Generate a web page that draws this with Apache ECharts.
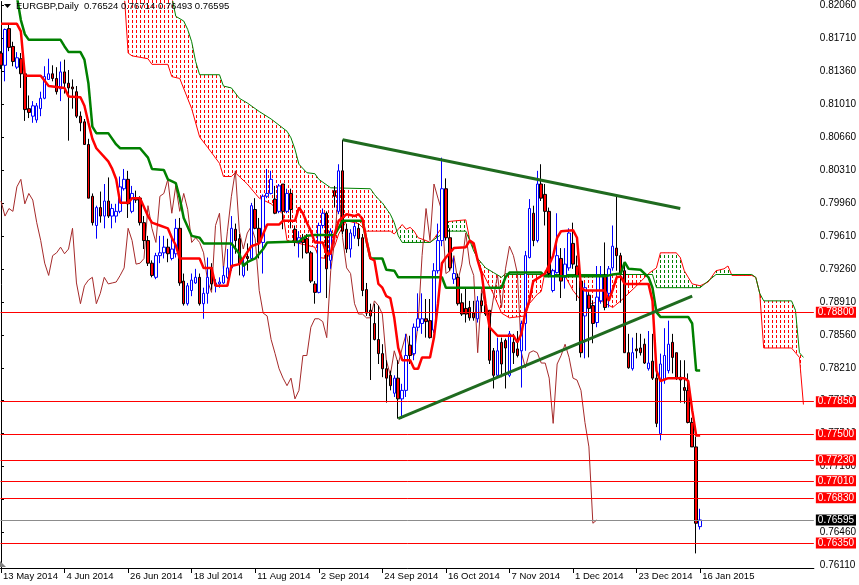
<!DOCTYPE html>
<html><head><meta charset="utf-8">
<script src="https://cdn.jsdelivr.net/npm/echarts@6/dist/echarts.min.js"></script>
<style>html,body{margin:0;padding:0;background:#fff}#main{width:859px;height:585px}</style>
</head><body><div id="main"></div><script>
const symbolName = 'EURGBP,Daily';
const dateLabels = ['13 May 2014','4 Jun 2014','26 Jun 2014','18 Jul 2014','11 Aug 2014','2 Sep 2014','24 Sep 2014','16 Oct 2014','7 Nov 2014','1 Dec 2014','23 Dec 2014','16 Jan 2015'];
const dateLabelBars = [0,16,32,48,64,80,96,112,128,144,160,176];
const priceTicks = [0.82060,0.81710,0.81360,0.81010,0.80660,0.80310,0.79960,0.79610,0.79260,0.78910,0.78560,0.78210,0.77860,0.77510,0.77160,0.76810,0.76460,0.76110];

const opens = [0.8155,0.8142,0.8181,0.8162,0.8140,0.8149,0.8133,0.8096,0.8088,0.8084,0.8096,0.8107,0.8127,0.8133,0.8128,0.8117,0.8135,0.8123,0.8119,0.8114,
0.8088,0.8082,0.8058,0.8003,0.7972,0.7991,0.7982,0.7998,0.7982,0.7982,0.7987,0.8011,0.8021,0.7987,0.8001,0.8001,0.7975,0.7956,0.7932,0.7917,
0.7940,0.7943,0.7949,0.7937,0.7942,0.7969,0.7913,0.7889,0.7903,0.7911,0.7917,0.7889,0.7900,0.7927,0.7908,0.7910,0.7911,0.7917,0.7927,0.7968,
0.7958,0.7919,0.7939,0.7937,0.7989,0.7969,0.7954,0.8003,0.8006,0.8000,0.7987,0.8016,0.7987,0.8006,0.7968,0.7954,0.7959,0.7958,0.7943,0.7910,
0.7901,0.7972,0.7985,0.7935,0.8009,0.7987,0.8030,0.7968,0.7947,0.7961,0.7969,0.7959,0.7904,0.7882,0.7868,0.7851,0.7836,0.7820,0.7813,0.7794,
0.7810,0.7788,0.7797,0.7845,0.7836,0.7864,0.7868,0.7873,0.7871,0.7861,0.7924,0.7956,0.8011,0.7959,0.7915,0.7917,0.7890,0.7884,0.7885,0.7879,
0.7873,0.7892,0.7887,0.7882,0.7839,0.7813,0.7848,0.7850,0.7813,0.7848,0.7841,0.7839,0.7868,0.7938,0.7985,0.7956,0.8016,0.8005,0.7987,0.7903,
0.7922,0.7937,0.7917,0.7927,0.7953,0.7929,0.7913,0.7876,0.7898,0.7887,0.7869,0.7892,0.7919,0.7900,0.7927,0.7948,0.7940,0.7924,0.7837,0.7820,
0.7841,0.7842,0.7846,0.7820,0.7828,0.7810,0.7751,0.7808,0.7818,0.7848,0.7837,0.7811,0.7800,0.7797,0.7763,0.7737,0.76524];
const closes = [0.8142,0.8180,0.8161,0.8146,0.8150,0.8133,0.8095,0.8092,0.8099,0.8099,0.8107,0.8130,0.8133,0.8128,0.8114,0.8135,0.8123,0.8118,0.8117,0.8088,
0.8081,0.8058,0.8001,0.7975,0.7991,0.7982,0.7998,0.7982,0.7990,0.7987,0.8013,0.8021,0.7995,0.8006,0.7999,0.7975,0.7956,0.7932,0.7919,0.7940,
0.7943,0.7949,0.7942,0.7947,0.7969,0.7911,0.7889,0.7908,0.7914,0.7917,0.7889,0.7900,0.7917,0.7910,0.7911,0.7912,0.7919,0.7927,0.7969,0.7956,
0.7931,0.7932,0.7937,0.7993,0.7969,0.7954,0.8003,0.8006,0.8021,0.7985,0.8014,0.7987,0.8006,0.7989,0.7954,0.7959,0.7954,0.7943,0.7913,0.7901,
0.7972,0.7985,0.7926,0.7966,0.8003,0.8030,0.7966,0.7947,0.7964,0.7971,0.7958,0.7903,0.7879,0.7876,0.7851,0.7836,0.7820,0.7810,0.7802,0.7810,
0.7788,0.7797,0.7834,0.7834,0.7864,0.7873,0.7873,0.7870,0.7853,0.7924,0.7956,0.8011,0.7959,0.7927,0.7921,0.7889,0.7878,0.7878,0.7874,0.7874,
0.7892,0.7887,0.7878,0.7829,0.7813,0.7839,0.7825,0.7842,0.7857,0.7837,0.7834,0.7868,0.7940,0.7990,0.7956,0.8016,0.8001,0.7987,0.7921,0.7924,
0.7940,0.7913,0.7931,0.7964,0.7931,0.7919,0.7837,0.7906,0.7884,0.7868,0.7896,0.7919,0.7885,0.7926,0.7950,0.7940,0.7921,0.7837,0.7821,0.7837,
0.7839,0.7837,0.7826,0.7826,0.7810,0.7762,0.7825,0.7834,0.7846,0.7832,0.7810,0.7808,0.7797,0.7763,0.7737,0.7656,0.76595];
const lows = [0.8138,0.8125,0.8157,0.8141,0.8138,0.8118,0.8083,0.8086,0.8081,0.8081,0.8088,0.8106,0.8127,0.8125,0.8111,0.8104,0.8112,0.8062,0.8096,0.8086,
0.8072,0.8058,0.8001,0.7972,0.7958,0.7975,0.7969,0.7980,0.7969,0.7975,0.7985,0.8009,0.7980,0.7985,0.7996,0.7972,0.7947,0.7929,0.7917,0.7915,
0.7932,0.7937,0.7933,0.7935,0.7938,0.7908,0.7887,0.7887,0.7897,0.7910,0.7887,0.7873,0.7889,0.7904,0.7901,0.7906,0.7910,0.7915,0.7924,0.7942,
0.7919,0.7917,0.7924,0.7935,0.7968,0.7937,0.7921,0.8001,0.8005,0.7984,0.7985,0.7968,0.7985,0.7969,0.7950,0.7938,0.7937,0.7942,0.7911,0.7889,
0.7900,0.7969,0.7895,0.7926,0.7991,0.7984,0.7963,0.7943,0.7938,0.7958,0.7950,0.7897,0.7876,0.7808,0.7850,0.7825,0.7811,0.7784,0.7797,0.7790,
0.7767,0.7767,0.7790,0.7825,0.7829,0.7860,0.7857,0.7853,0.7852,0.7858,0.7921,0.7950,0.7956,0.7924,0.7910,0.7887,0.7876,0.7869,0.7871,0.7871,
0.7869,0.7879,0.7876,0.7825,0.7799,0.7810,0.7811,0.7799,0.7811,0.7825,0.7832,0.7800,0.7839,0.7937,0.7950,0.7954,0.7998,0.7972,0.7917,0.7901,
0.7921,0.7895,0.7905,0.7924,0.7926,0.7892,0.7832,0.7831,0.7832,0.7847,0.7864,0.7889,0.7882,0.7885,0.7924,0.7924,0.7890,0.7837,0.7820,0.7818,
0.7831,0.7834,0.7825,0.7818,0.7808,0.7758,0.7744,0.7804,0.7815,0.7815,0.7808,0.7784,0.7783,0.7762,0.7737,0.7624,0.76493];
const highs = [0.8157,0.8181,0.8185,0.8167,0.8156,0.8155,0.8141,0.8110,0.8104,0.8102,0.8114,0.8141,0.8149,0.8142,0.8140,0.8146,0.8148,0.8137,0.8127,0.8120,
0.8093,0.8085,0.8064,0.8006,0.7993,0.8008,0.8016,0.8023,0.7995,0.7995,0.8024,0.8032,0.8030,0.8014,0.8009,0.8003,0.7982,0.7961,0.7935,0.7943,
0.7961,0.7961,0.7958,0.7961,0.7979,0.7980,0.7921,0.7911,0.7921,0.7926,0.7921,0.7906,0.7938,0.7932,0.7915,0.7917,0.7929,0.7947,0.7982,0.7974,
0.7963,0.7938,0.7953,0.7996,0.8001,0.7980,0.8005,0.8032,0.8030,0.8014,0.8016,0.8016,0.8011,0.8011,0.7972,0.7966,0.7963,0.7963,0.7945,0.7913,
0.7975,0.7990,0.7987,0.7969,0.8014,0.8037,0.8063,0.7974,0.7968,0.7975,0.7974,0.7963,0.7911,0.7889,0.7889,0.7887,0.7846,0.7829,0.7818,0.7813,
0.7829,0.7804,0.7857,0.7855,0.7868,0.7900,0.7900,0.7894,0.7894,0.7932,0.7974,0.8044,0.8022,0.7969,0.7938,0.7921,0.7900,0.7906,0.7892,0.7892,
0.7897,0.7900,0.7895,0.7882,0.7842,0.7853,0.7853,0.7852,0.7860,0.7857,0.7860,0.7871,0.7945,0.8000,0.7993,0.8030,0.8037,0.8016,0.7991,0.7926,
0.7985,0.7948,0.7948,0.7969,0.7975,0.7940,0.7917,0.7911,0.7901,0.7892,0.7929,0.7929,0.7954,0.7929,0.7972,0.8003,0.7943,0.7931,0.7857,0.7853,
0.7858,0.7857,0.7852,0.7860,0.7857,0.7825,0.7836,0.7863,0.7871,0.7857,0.7837,0.7829,0.7829,0.7815,0.7768,0.7748,0.76714];

const tenkan = [[0,0.8186],[4,0.8186],[5,0.8178],[6,0.8131],[10,0.8131],[12,0.8120],[16,0.8118],[17,0.8109],[20,0.8108],[21,0.8099],[22,0.8081],[23,0.8064],[24,0.8054],[27,0.8040],[28,0.8032],[29,0.8021],[30,0.7996],[32,0.7996],[33,0.8001],[35,0.8001],[37,0.7982],[38,0.7975],[40,0.7972],[42,0.7969],[43,0.7959],[44,0.7951],[45,0.7937],[50,0.7937],[51,0.7927],[53,0.7927],[54,0.7908],[57,0.7908],[58,0.7929],[60,0.7931],[63,0.7950],[65,0.7953],[66,0.7963],[67,0.7973],[70,0.7973],[71,0.7977],[74,0.7977],[75,0.7991],[76,0.7985],[77,0.7975],[78,0.7966],[79,0.7954],[81,0.7954],[82,0.7942],[83,0.7942],[84,0.7963],[85,0.7977],[87,0.7984],[89,0.7982],[90,0.7984],[91,0.7979],[92,0.7956],[93,0.7937],[94,0.7935],[95,0.7910],[96,0.7906],[97,0.7897],[98,0.7895],[99,0.7874],[100,0.7842],[101,0.7829],[103,0.7829],[104,0.7820],[105,0.7820],[106,0.7832],[108,0.7832],[109,0.7853],[110,0.7889],[111,0.7932],[112,0.7938],[114,0.7948],[117,0.7949],[118,0.7956],[119,0.7953],[120,0.7935],[121,0.7921],[122,0.7889],[123,0.7864],[125,0.7855],[129,0.7855],[130,0.7848],[131,0.7857],[132,0.7880],[133,0.7892],[134,0.7913],[137,0.7921],[139,0.7940],[140,0.7959],[141,0.7966],[144,0.7967],[145,0.7959],[146,0.7906],[147,0.7903],[152,0.7903],[153,0.7892],[154,0.7904],[155,0.7917],[156,0.7918],[157,0.7910],[163,0.7910],[164,0.7892],[165,0.7818],[166,0.7807],[168,0.7810],[172,0.7810],[173,0.7807],[174,0.7776],[175,0.7749],[176,0.7749]];
const kijun = [[4,0.8215],[5,0.8190],[6,0.8175],[7,0.8169],[15,0.8169],[16,0.8162],[17,0.8156],[20,0.8156],[21,0.8148],[22,0.8123],[23,0.8077],[24,0.8070],[27,0.8070],[29,0.8058],[30,0.8054],[35,0.8054],[37,0.8044],[38,0.8032],[41,0.8031],[42,0.8021],[44,0.8017],[45,0.8001],[46,0.7980],[48,0.7961],[50,0.7959],[51,0.7953],[58,0.7953],[60,0.7942],[61,0.7929],[62,0.7933],[64,0.7937],[66,0.7947],[67,0.7954],[75,0.7955],[77,0.7961],[79,0.7962],[84,0.7962],[86,0.7977],[91,0.7977],[92,0.7956],[93,0.7937],[96,0.7937],[97,0.7925],[99,0.7924],[100,0.7917],[111,0.7917],[112,0.7906],[126,0.7906],[127,0.7917],[128,0.7922],[136,0.7922],[137,0.7918],[152,0.7918],[154,0.7920],[156,0.7921],[157,0.7933],[158,0.7926],[161,0.7925],[163,0.7917],[164,0.7906],[165,0.7880],[166,0.7875],[173,0.7875],[174,0.7868],[175,0.7818],[176,0.7818]];
const spanA = [[31,0.8220],[32,0.8155],[33,0.8152],[37,0.8149],[38,0.8143],[42,0.8143],[43,0.8130],[45,0.8128],[48,0.8096],[50,0.8066],[52,0.8055],[55,0.8038],[56,0.8024],[58,0.8024],[59,0.8028],[62,0.8016],[63,0.8011],[65,0.8001],[68,0.7995],[71,0.7984],[72,0.7956],[75,0.7953],[79,0.7949],[80,0.7938],[82,0.7937],[84,0.7950],[85,0.7963],[87,0.7977],[90,0.7974],[92,0.7966],[98,0.7966],[99,0.7963],[100,0.7968],[101,0.7973],[102,0.7968],[103,0.7970],[104,0.7966],[105,0.7959],[107,0.7956],[108,0.7954],[109,0.7958],[112,0.7976],[117,0.7978],[118,0.7957],[119,0.7949],[121,0.7924],[124,0.7899],[126,0.7879],[128,0.7874],[132,0.7876],[133,0.7889],[135,0.7899],[136,0.7902],[137,0.7924],[139,0.7924],[141,0.7926],[144,0.7903],[147,0.7887],[151,0.7892],[154,0.7885],[156,0.7892],[160,0.7908],[163,0.7921],[165,0.7927],[166,0.7943],[170,0.7943],[171,0.7938],[172,0.7924],[173,0.7917],[174,0.7910],[176,0.7908],[178,0.7912],[180,0.7924],[182,0.7926],[183,0.7929],[184,0.7919],[189,0.7919],[190,0.7917],[191,0.7900],[192,0.7842],[199,0.7842],[200,0.7837],[201,0.7832],[202,0.7782]];
const spanB = [[43,0.8215],[44,0.8194],[46,0.8189],[47,0.8180],[48,0.8167],[49,0.8146],[50,0.8132],[55,0.8132],[56,0.8120],[58,0.8118],[60,0.8107],[62,0.8102],[65,0.8093],[68,0.8085],[72,0.8072],[73,0.8065],[74,0.8053],[75,0.8037],[77,0.8028],[79,0.8027],[80,0.8021],[83,0.8012],[93,0.8011],[94,0.8005],[95,0.8000],[96,0.7996],[98,0.7984],[99,0.7975],[100,0.7961],[101,0.7954],[108,0.7954],[110,0.7960],[112,0.7966],[117,0.7966],[118,0.7956],[119,0.7945],[120,0.7937],[122,0.7927],[124,0.7922],[126,0.7917],[127,0.7921],[128,0.7920],[164,0.7920],[165,0.7906],[176,0.7906],[178,0.7913],[180,0.7920],[189,0.7920],[190,0.7917],[191,0.7900],[192,0.7892],[199,0.7892],[200,0.7882],[201,0.7837],[202,0.7832]];
const chikouShift = 26;
const trendUpper = [[86,0.8063],[171,0.7990]];
const trendLower = [[100,0.7767],[174,0.7897]];
const levels = [0.7880,0.7785,0.7750,0.7723,0.7701,0.7683,0.7635];

const yMin = 0.76085, yMax = 0.82097;
const xMin = -0.125, xMax = 204.625;
const FONT = 'Liberation Sans';

const last = opens.length - 1;
const candleData = opens.map((o, i) => [i, o, closes[i], lows[i], highs[i]]);
const chikou = closes.slice(chikouShift).map((c, k) => [k, c]);
const header = symbolName + '  ' + [opens[last], highs[last], lows[last], closes[last]].map(v => v.toFixed(5)).join(' ');

const chart = echarts.init(document.getElementById('main'), null, {renderer: 'canvas'});
const option = {
  animation: false,
  backgroundColor: '#ffffff',
  grid: {left: 0, right: 40, top: 0, bottom: 17, containLabel: false},
  xAxis: {
    type: 'value', min: xMin, max: xMax,
    axisLine: {show: true, lineStyle: {color: '#000', width: 1}},
    axisTick: {show: true, customValues: dateLabelBars, length: 5, lineStyle: {color: '#000'}},
    axisLabel: {customValues: dateLabelBars, formatter: v => dateLabels[dateLabelBars.indexOf(v)] || '', align: 'left', margin: 3, padding: [0,0,0,2], color: '#000', fontSize: 9.5, fontFamily: FONT},
    splitLine: {show: false}
  },
  yAxis: {
    type: 'value', position: 'right', min: yMin, max: yMax,
    axisLine: {show: true, lineStyle: {color: '#000', width: 1}},
    axisTick: {show: true, customValues: priceTicks, length: 3, lineStyle: {color: '#000'}},
    axisLabel: {customValues: priceTicks, formatter: v => v.toFixed(5), margin: 6, color: '#000', fontSize: 10, fontFamily: FONT},
    splitLine: {show: false}
  },
  graphic: [
    {type: 'polygon', shape: {points: [[4,4],[11,4],[7.5,8]]}, style: {fill: '#000'}, z: 100},
    {type: 'text', left: 16, top: 1, style: {text: header, fill: '#000', fontSize: 9.5, fontFamily: FONT}, z: 100},
    {type: 'polygon', shape: {points: [[0,561],[0,567],[6,567]]}, style: {fill: '#808080'}, z: 100}
  ],
  series: [
    {type: 'line', name: 'SpanA', data: spanA, symbol: 'none', lineStyle: {color: '#ff0000', width: 1}, z: 2, silent: true},
    {type: 'line', name: 'SpanB', data: spanB, symbol: 'none', lineStyle: {color: '#008000', width: 1}, z: 2, silent: true},
    {type: 'line', name: 'Chikou', data: chikou, symbol: 'none', lineStyle: {color: '#a52a2a', width: 1}, z: 3, silent: true,
      markLine: {
        symbol: ['none','none'], silent: true, animation: false, precision: 5,
        label: {position: 'end', distance: 2, formatter: p => Number(p.value).toFixed(5), color: '#fff', fontSize: 10, fontFamily: FONT, padding: [1,2,0,2]},
        data: levels.map(v => ({yAxis: v, lineStyle: {color: '#ff0000', width: 1, type: 'solid'}, label: {backgroundColor: '#ff0000'}}))
          .concat([{yAxis: closes[last], lineStyle: {color: '#8c8c8c', width: 1, type: 'solid'}, label: {backgroundColor: '#000000'}}])
      }
    },
    {type: 'candlestick', name: 'EURGBP', data: candleData, barWidth: 3, z: 4,
      itemStyle: {color: '#ffffff', color0: '#ff0000', borderColor: '#0000ff', borderColor0: '#000000', borderWidth: 1}},
    {type: 'line', name: 'Kijun', data: kijun, symbol: 'none', lineStyle: {color: '#008000', width: 2.5}, z: 5, silent: true},
    {type: 'line', name: 'Tenkan', data: tenkan, symbol: 'none', lineStyle: {color: '#ff0000', width: 2.5}, z: 6, silent: true},
    {type: 'line', name: 'TrendUpper', data: trendUpper, symbol: 'none', lineStyle: {color: '#1f6b1f', width: 3}, z: 7, silent: true},
    {type: 'line', name: 'TrendLower', data: trendLower, symbol: 'none', lineStyle: {color: '#1f6b1f', width: 3}, z: 7, silent: true}
  ]
};
chart.setOption(option);

// Kumo hatching between Senkou Span A and B
function hatchTile(color) {
  const c = document.createElement('canvas'); c.width = 4; c.height = 5;
  const g = c.getContext('2d'); g.fillStyle = color; g.fillRect(0, 0, 1, 3);
  return c;
}
const toPx = pt => chart.convertToPixel({gridIndex: 0}, pt);
const pa = spanA.map(toPx), pb = spanB.map(toPx);
const cloudPoly = pa.concat(pb.slice().reverse());
function addHatch(color, dir) {
  const clipPts = pa.concat([[pa[pa.length - 1][0], dir * 5000], [pa[0][0], dir * 5000]]);
  const el = new echarts.graphic.Polygon({shape: {points: cloudPoly}, style: {fill: {image: hatchTile(color), repeat: 'repeat'}, stroke: null}, z: 1, silent: true});
  el.setClipPath(new echarts.graphic.Polygon({shape: {points: clipPts}}));
  chart.getZr().add(el);
}
addHatch('#ff0000', -1);
addHatch('#008000', 1);
</script></body></html>
